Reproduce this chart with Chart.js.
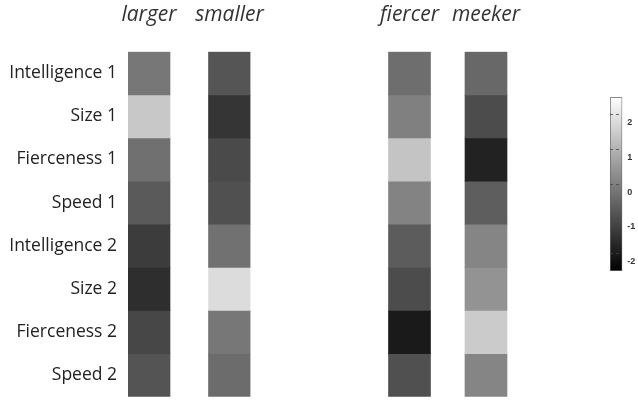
<!DOCTYPE html>
<html>
<head>
<meta charset="utf-8">
<script src="https://cdn.jsdelivr.net/npm/chart.js@4.4.0/dist/chart.umd.min.js"></script>
<style>
  html, body { margin: 0; padding: 0; background: #fff; width: 638px; height: 400px; overflow: hidden; }
  .box { position: absolute; top: 0; height: 400px; }
</style>
</head>
<body>
<div class="box" style="left:0;width:280px"><canvas id="leftPair"></canvas></div>
<div class="box" style="left:340px;width:200px"><canvas id="rightPair"></canvas></div>
<div class="box" style="left:600px;width:38px"><canvas id="colorbar"></canvas></div>
<script>
// Row and column labels
const rows = ['Intelligence 1', 'Size 1', 'Fierceness 1', 'Speed 1',
              'Intelligence 2', 'Size 2', 'Fierceness 2', 'Speed 2'];
const leftColumns = ['larger', 'smaller'];
const rightColumns = ['fiercer', 'meeker'];

// Cell values, one entry per row (top to bottom)
const larger  = [-0.17, 1.42, -0.30, -0.74, -1.32, -1.60, -1.11, -0.85];
const smaller = [-0.83, -1.46, -1.05, -0.93, -0.28, 1.81, -0.17, -0.38];
const fiercer = [-0.34, 0.01, 1.34, 0.07, -0.70, -1.01, -1.99, -0.93];
const meeker  = [-0.46, -1.01, -1.83, -0.66, 0.11, 0.38, 1.48, 0.11];

// Colour scale
const colorMin = -2.5;
const colorMax = 2.5;
const colorTicks = [-2, -1, 0, 1, 2];

function gray(v) {
  let t = (v - colorMin) / (colorMax - colorMin);
  t = Math.max(0, Math.min(1, t));
  const g = Math.round(255 * t);
  return `rgb(${g},${g},${g})`;
}

const headerFont = { family: 'Open Sans', size: 21, style: 'italic' };
const rowFont = { family: 'Open Sans', size: 17.5 };

// One panel of two heat-map columns; each row is a floating bar [r, r+1]
function heatmap(id, columns, series, showRows, xRange, padding) {
  const datasets = rows.map((row, r) => ({
    label: row,
    data: columns.map((c, i) => ({ x: i, y: [r, r + 1] })),
    backgroundColor: series.map(s => gray(s[r])),
    borderWidth: 0,
    barThickness: 42,
    grouped: false
  }));
  return new Chart(document.getElementById(id), {
    type: 'bar',
    data: { datasets },
    options: {
      responsive: true,
      maintainAspectRatio: false,
      animation: false,
      layout: { padding },
      plugins: { legend: { display: false }, tooltip: { enabled: false } },
      scales: {
        x: {
          type: 'linear',
          position: 'top',
          offset: false,
          min: xRange[0],
          max: xRange[1],
          grid: { display: false, drawTicks: false },
          border: { display: false },
          afterBuildTicks(scale) { scale.ticks = columns.map((c, i) => ({ value: i })); },
          ticks: {
            autoSkip: false,
            maxRotation: 0,
            callback: (v, i) => columns[i],
            font: headerFont,
            color: '#333',
            padding: 24
          },
          afterFit(scale) {
            scale.height = 51.7;
            scale.paddingLeft = 0;
            scale.paddingRight = 0;
          }
        },
        y: {
          type: 'linear',
          display: showRows,
          min: 0,
          max: rows.length,
          reverse: true,
          grid: { display: false, drawTicks: false },
          border: { display: false },
          afterBuildTicks(scale) { scale.ticks = rows.map((_, i) => ({ value: i + 0.5 })); },
          ticks: {
            autoSkip: false,
            callback: (v, i) => rows[i],
            font: rowFont,
            color: '#222',
            padding: 11
          },
          afterFit(scale) {
            if (showRows) scale.width = 128;
            scale.paddingTop = 0;
            scale.paddingBottom = 0;
          }
        }
      }
    }
  });
}

heatmap('leftPair', leftColumns, [larger, smaller], true, [-0.2609, 1.2609],
        { left: 0, right: 29.5, top: 0, bottom: 3.3 });
heatmap('rightPair', rightColumns, [fiercer, meeker], false, [-0.5, 1.5],
        { left: 31.25, right: 15.75, top: 0, bottom: 3.3 });

// Colour bar
new Chart(document.getElementById('colorbar'), {
  type: 'bar',
  data: {
    labels: [''],
    datasets: [{
      data: [[colorMin, colorMax]],
      backgroundColor(ctx) {
        const area = ctx.chart.chartArea;
        if (!area) return '#888';
        const g = ctx.chart.ctx.createLinearGradient(0, area.bottom, 0, area.top);
        g.addColorStop(0, gray(colorMin));
        g.addColorStop(1, gray(colorMax));
        return g;
      },
      borderColor: '#666',
      borderWidth: 1,
      borderSkipped: false,
      barPercentage: 1,
      categoryPercentage: 1
    }]
  },
  options: {
    responsive: true,
    maintainAspectRatio: false,
    animation: false,
    layout: { padding: { left: 10, right: 0, top: 97.3, bottom: 129 } },
    plugins: { legend: { display: false }, tooltip: { enabled: false } },
    scales: {
      x: { display: false },
      y: {
        position: 'right',
        min: colorMin,
        max: colorMax,
        afterBuildTicks(scale) { scale.ticks = colorTicks.map(v => ({ value: v })); },
        grid: { drawTicks: false, color: 'rgba(70,70,70,0.8)', z: 1 },
        border: { display: false, dash: [3, 3] },
        ticks: {
          labelOffset: 8,
          padding: 5,
          font: { family: 'Liberation Sans', size: 9, weight: 'bold' },
          color: '#333'
        },
        afterFit(scale) { scale.width = 15.7; }
      }
    }
  }
});
</script>
</body>
</html>
